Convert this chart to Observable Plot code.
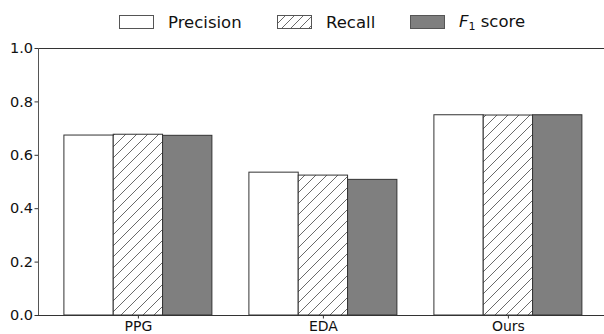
<!DOCTYPE html>
<html><head><meta charset="utf-8">
<script src="https://cdn.jsdelivr.net/npm/d3@7"></script>
<script src="https://cdn.jsdelivr.net/npm/@observablehq/plot@0.6"></script>
<style>
body{margin:0;background:#fff;font-family:"DejaVu Sans",sans-serif;}
#wrap{position:relative;width:604px;height:334px;overflow:hidden;}
#legend{position:relative;height:40px;}
.item{position:absolute;top:0;height:44px;display:flex;align-items:center;font-size:16.5px;color:#111;white-space:nowrap;}
.item svg{margin-right:14px;}
#chart svg{display:block;}
</style></head><body>
<div id="wrap"><div id="legend"></div><div id="chart"></div></div>
<script>
const categories = ["PPG", "EDA", "Ours"];
const series = ["Precision", "Recall", "F1 score"];
const precision = [0.674, 0.535, 0.750];
const recall = [0.677, 0.524, 0.749];
const f1 = [0.673, 0.508, 0.750];
const yTicks = [0, 0.2, 0.4, 0.6, 0.8, 1.0];

const values = [precision, recall, f1];
const fills = ["white", "url(#hatch)", "#7f7f7f"];
const barW = 0.8 / series.length;
const rows = [];
values.forEach((vals, s) => vals.forEach((v, i) => {
  const c = i + (s - (series.length - 1) / 2) * barW;
  rows.push({category: categories[i], series: series[s], s, x1: c - barW / 2, x2: c + barW / 2, value: v});
}));
const xDomain = [-0.54, 2.5195];

const chart = Plot.plot({
  width: 604,
  height: 294,
  marginLeft: 38,
  marginRight: 0,
  marginTop: 8,
  marginBottom: 19,
  style: {fontFamily: "DejaVu Sans, sans-serif", fontSize: "14px", color: "#111", background: "white"},
  x: {type: "linear", domain: xDomain},
  y: {domain: [0, 1]},
  marks: [
    ...series.map((name, s) => Plot.rectY(rows.filter(d => d.s === s), {
      x1: "x1", x2: "x2", y1: 0, y2: "value",
      fill: fills[s], stroke: "#333", strokeWidth: 1
    })),
    Plot.ruleY([0, 1], {stroke: "#333", strokeWidth: 1}),
    Plot.ruleX([xDomain[0]], {stroke: "#555", strokeWidth: 1}),
    Plot.axisY(yTicks, {tickFormat: d3.format(".1f"), tickSize: 3.5, tickPadding: 2, fontSize: 14.5, label: null, stroke: "#333"}),
    Plot.axisX(categories.map((c, i) => i), {tickFormat: i => categories[i], tickSize: 3.5, tickPadding: 2, fontSize: 14, label: null, stroke: "#333"})
  ]
});

const svg = d3.select(chart);
const defs = svg.insert("defs", ":first-child");
const pat = defs.append("pattern").attr("id", "hatch").attr("patternUnits", "userSpaceOnUse")
  .attr("width", 11).attr("height", 11);
pat.append("rect").attr("width", 11).attr("height", 11).attr("fill", "white");
pat.append("path").attr("d", "M-1,1 L1,-1 M0,11 L11,0 M10,12 L12,10")
  .attr("stroke", "#444").attr("stroke-width", 0.8);
document.getElementById("chart").appendChild(chart);

// legend
const legend = d3.select("#legend");
const legendLeft = [119, 277, 410];
series.forEach((name, s) => {
  const item = legend.append("div").attr("class", "item").style("left", legendLeft[s] + "px");
  const sw = item.append("svg").attr("width", 35).attr("height", 14);
  if (s === 1) {
    const d = sw.append("defs").append("pattern").attr("id", "hatchL").attr("patternUnits", "userSpaceOnUse")
      .attr("width", 9).attr("height", 9);
    d.append("rect").attr("width", 9).attr("height", 9).attr("fill", "white");
    d.append("path").attr("d", "M-1,1 L1,-1 M0,9 L9,0 M8,10 L10,8").attr("stroke", "#444").attr("stroke-width", 0.8);
  }
  sw.append("rect").attr("x", 0.5).attr("y", 0.5).attr("width", 34).attr("height", 13)
    .attr("fill", s === 1 ? "url(#hatchL)" : fills[s]).attr("stroke", "#555").attr("stroke-width", 1);
  const label = item.append("span");
  if (name === "F1 score") {
    label.html('<i>F</i><sub style="font-size:11px;vertical-align:-3px">1</sub> score');
  } else {
    label.text(name);
  }
});
</script>
</body></html>
